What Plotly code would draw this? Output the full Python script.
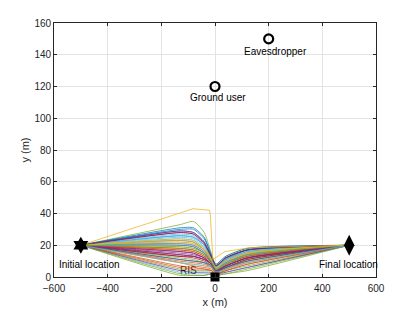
import plotly.graph_objects as go

# Waypoint x positions shared by the trajectory bundle
wp_x = [-500, -130, -80, -40, -12, 3, 40, 120, 500]

# y values of each trajectory at wp_x[1:-1] (start/end fixed at 20)
y_m130 = [29, 9, 22, 15, 33, 3, 18, 26, 11, 20, 28, 5, 24, 13, 31, 17, 9, 21, 1, 27,
          14, 23, 6, 19, 29, 12, 25, 16, 30, 10, 22, 4, 18, 26, 13, 20, 7, 24, 16, 2,
          21, 28, 11, 17, 23, 14, 19, 9]
y_m80 = [28, 7, 21, 14, 35, 2, 17, 25, 10, 19, 27, 4, 23, 12, 31, 16, 8, 20, 1, 26,
         13, 22, 5, 18, 28, 11, 24, 15, 30, 9, 21, 3, 17, 25, 13, 19, 6, 23, 15, 1,
         20, 27, 10, 16, 22, 13, 18, 8]
y_m40 = [22, 6, 17, 12, 28, 2, 14, 20, 9, 15, 21, 4, 18, 10, 25, 13, 7, 16, 1, 20,
         11, 17, 5, 15, 22, 9, 19, 12, 24, 8, 17, 3, 14, 20, 11, 15, 5, 18, 12, 1,
         16, 21, 9, 13, 17, 11, 15, 7]
y_m12 = [12, 5, 10, 8, 14, 2, 9, 11, 6, 9, 12, 4, 10, 7, 13, 9, 5, 9, 2, 11,
         8, 10, 4, 9, 12, 7, 11, 8, 13, 6, 10, 3, 9, 11, 8, 9, 4, 11, 8, 2,
         10, 12, 7, 9, 10, 8, 9, 6]
y_p3 = [7, 3, 5, 4, 8, 1, 5, 6, 3, 4, 7, 2, 6, 3, 8, 5, 3, 5, 1, 6,
        4, 5, 2, 5, 7, 3, 6, 4, 7, 3, 5, 2, 4, 6, 4, 5, 2, 6, 4, 1,
        5, 7, 3, 4, 5, 4, 5, 3]
y_p40 = [12, 5, 9, 7, 13, 3, 8, 11, 6, 9, 11, 4, 10, 6, 13, 8, 5, 9, 2, 11,
         7, 10, 4, 8, 12, 6, 10, 7, 12, 5, 9, 3, 8, 11, 6, 9, 4, 10, 7, 2,
         9, 12, 6, 8, 10, 7, 8, 5]
y_p120 = [17, 9, 15, 12, 18, 6, 13, 16, 10, 14, 17, 7, 15, 11, 18, 13, 9, 14, 5, 16,
          12, 15, 8, 14, 17, 11, 16, 12, 17, 10, 15, 6, 13, 16, 11, 14, 8, 15, 12, 4,
          14, 17, 10, 13, 15, 12, 14, 9]

# Outlier trajectory (high yellow one)
out_x = [-500, -82, -20, -17, -8, 37, 130, 500]
out_y = [20, 43, 42, 38, 11, 16, 18.5, 20]

# Key locations
init_loc = (-500, 20)
final_loc = (500, 20)
ris_loc = (0, 0)
user_loc = (0, 120)
eve_loc = (200, 150)

colors = ['#0072BD', '#D95319', '#EDB120', '#7E2F8E', '#77AC30', '#4DBEEE', '#A2142F']

fig = go.Figure()

# RIS label drawn first so trajectories overlay it
fig.add_trace(go.Scatter(x=[-130], y=[3.5], mode='text', text=['RIS'],
                         textposition='middle right',
                         textfont=dict(size=10, color='#000000', family='Liberation Sans, Arial'),
                         showlegend=False, hoverinfo='skip'))

for i in range(len(y_m130)):
    ys = [20, y_m130[i], y_m80[i], y_m40[i], y_m12[i], y_p3[i], y_p40[i], y_p120[i], 20]
    fig.add_trace(go.Scatter(x=wp_x, y=ys, mode='lines',
                             line=dict(color=colors[i % 7], width=0.75, shape='spline', smoothing=0.6),
                             showlegend=False, hoverinfo='skip'))

fig.add_trace(go.Scatter(x=out_x, y=out_y, mode='lines',
                         line=dict(color='#EDB120', width=0.75),
                         showlegend=False, hoverinfo='skip'))

def marker(pt, symbol, size, lw=0):
    fig.add_trace(go.Scatter(
        x=[pt[0]], y=[pt[1]], mode='markers', cliponaxis=False,
        marker=dict(symbol=symbol, size=size, color='black',
                    line=dict(color='black', width=lw)),
        showlegend=False, hoverinfo='skip'))

marker(init_loc, 'hexagram', 13)
marker(final_loc, 'diamond-tall', 15)
marker(ris_loc, 'square', 9)
marker(user_loc, 'circle-open', 9, lw=2.2)
marker(eve_loc, 'circle-open', 9, lw=2.2)

font = dict(family='Liberation Sans, Arial', size=10, color='#000000')
texts = [(-590, 8, 'Initial location'), (380, 8, 'Final location'),
         (-100, 113, 'Ground user'), (100, 142, 'Eavesdropper')]
for tx, ty, t in texts:
    fig.add_annotation(x=tx, y=ty, text=t, showarrow=False, xanchor='left',
                       yanchor='middle', font=font)

axis_common = dict(showline=True, linecolor='#262626', linewidth=0.8, mirror='ticks',
                   ticks='inside', ticklen=3, tickcolor='#262626', tickwidth=0.8,
                   showgrid=True, gridcolor='#e3e3e3', gridwidth=0.8, zeroline=False,
                   automargin=False,
                   tickfont=dict(family='Liberation Sans, Arial', size=10, color='#262626'))

fig.update_xaxes(range=[-600, 600], dtick=200, ticklabelstandoff=2,
                 title=dict(text='x (m)', standoff=5,
                 font=dict(family='Liberation Sans, Arial', size=11, color='#262626')),
                 **axis_common)
fig.update_yaxes(range=[0, 160], dtick=20, title=dict(text='y (m)', standoff=2,
                 font=dict(family='Liberation Sans, Arial', size=11, color='#262626')),
                 **axis_common)

fig.update_layout(width=415, height=312, margin=dict(l=54, r=39, t=23, b=35),
                  plot_bgcolor='white', paper_bgcolor='white')

fig.write_html('out.html', config={'displayModeBar': False},
               post_script="document.body.style.margin='0';")
